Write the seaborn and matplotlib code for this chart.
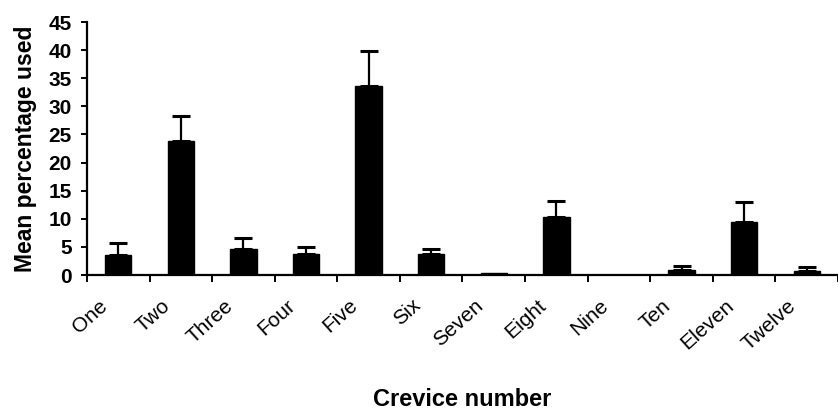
import matplotlib
matplotlib.use("Agg")
import matplotlib.pyplot as plt
import matplotlib.transforms as mtransforms
from matplotlib.ticker import FixedLocator, MultipleLocator
import numpy as np
import pandas as pd
import seaborn as sns

# Crevice usage: mean percentage used and upper standard error
crevices = ["One", "Two", "Three", "Four", "Five", "Six",
            "Seven", "Eight", "Nine", "Ten", "Eleven", "Twelve"]
mean_used = [3.5, 23.9, 4.7, 3.7, 33.6, 3.7, 0.3, 10.3, 0.0, 0.9, 9.5, 0.8]
error_up = [2.2, 4.4, 1.9, 1.2, 6.3, 0.9, 0.0, 2.8, 0.0, 0.7, 3.4, 0.7]

df = pd.DataFrame({"crevice": crevices, "mean": mean_used, "err": error_up})

sns.set_theme(style="ticks")
plt.rcParams["font.family"] = ["Liberation Sans", "DejaVu Sans"]
plt.rcParams["text.color"] = "black"
plt.rcParams["axes.labelcolor"] = "black"

fig = plt.figure(figsize=(8.38, 4.12), dpi=100)
ax = fig.add_axes([0.1038, 0.3325, 0.8962, 0.6141])

sns.barplot(data=df, x="crevice", y="mean", order=crevices, color="black",
            edgecolor="black", width=0.42, errorbar=None, saturation=1, ax=ax)

# upward-only error bars
xpos = np.arange(len(crevices))
has_err = df["err"].to_numpy() > 0
ax.errorbar(xpos[has_err], df["mean"].to_numpy()[has_err],
            yerr=[np.zeros(has_err.sum()), df["err"].to_numpy()[has_err]],
            fmt="none", ecolor="black", elinewidth=1.6, capsize=6.5,
            capthick=2.2, zorder=3)

ax.set_xlim(-0.5, len(crevices) - 0.5)
ax.set_ylim(0, 45)
ax.yaxis.set_major_locator(MultipleLocator(5))

for side in ("top", "right"):
    ax.spines[side].set_visible(False)
for side in ("left", "bottom"):
    ax.spines[side].set_linewidth(1.6)
    ax.spines[side].set_color("black")

ax.tick_params(axis="y", direction="out", length=4, width=1.4, colors="black",
               labelsize=15, pad=7)
for lab in ax.get_yticklabels():
    lab.set_fontweight("bold")

# category boundaries carry the x tick marks; labels sit under the bars
ax.xaxis.set_minor_locator(FixedLocator(np.arange(-0.5, len(crevices), 1.0)))
ax.tick_params(axis="x", which="minor", direction="out", length=5, width=1.4,
               colors="black")
ax.tick_params(axis="x", which="major", length=0, pad=15, labelsize=15,
               colors="black")
shift = mtransforms.ScaledTranslation(-7 / 100, 0, fig.dpi_scale_trans)
for lab in ax.get_xticklabels():
    lab.set_rotation(42)
    lab.set_ha("right")
    lab.set_va("top")
    lab.set_transform(lab.get_transform() + shift)

ax.set_xlabel("Crevice number", fontsize=17, fontweight="bold", labelpad=25,
              color="black")
ax.set_ylabel("Mean percentage used", fontsize=16.5, fontweight="bold",
              labelpad=8, color="black")
ax.grid(False)

fig.savefig("out.png", dpi=100)
